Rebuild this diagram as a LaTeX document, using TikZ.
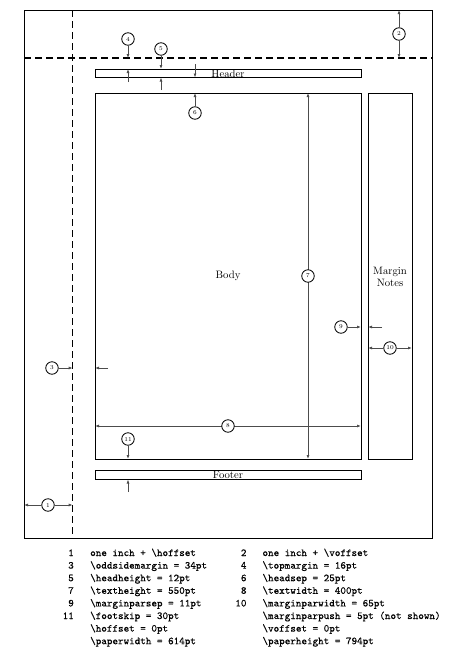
\documentclass[tikz,border=0pt]{standalone}
\usepackage{fontspec}
\newfontfamily\legendtt[FakeBold=0.35]{lmmono10-regular.otf}
\usetikzlibrary{arrows.meta}
\begin{document}
\begin{tikzpicture}[x=1pt,y=-1pt,
  box/.style={draw, line width=0.9pt, inner sep=0pt, outer sep=0pt, anchor=north west},
  dim/.style={line width=0.8pt, draw=black!70, -{Latex[length=4pt,width=3pt]}},
  num/.style={circle, draw, fill=white, line width=0.8pt, minimum size=12.5pt, inner sep=0pt, font=\fontsize{6}{6}\selectfont},
  guide/.style={dash pattern=on 7pt off 4pt, line width=1.3pt},
  lbl/.style={inner sep=0pt, font=\fontsize{10.7}{12.5}\selectfont},
  lnum/.style={inner sep=0pt, anchor=base east, font=\fontsize{10.6}{12.6}\selectfont\legendtt},
  ltxt/.style={inner sep=0pt, anchor=base west, font=\fontsize{10.6}{12.6}\selectfont\legendtt}]
\useasboundingbox (0,0) rectangle (459,653);

% boxes
\node[box, line width=1pt, minimum width=408pt, minimum height=528pt] (page) at (24,10) {};
\node[box, minimum width=266pt, minimum height=8.5pt] (head) at (95,69) {};
\node[box, minimum width=266pt, minimum height=366pt] (body) at (95,93) {};
\node[box, minimum width=44pt, minimum height=366pt] (marg) at (368,93) {};
\node[box, minimum width=266pt, minimum height=9pt] (foot) at (95,470.5) {};

% labels
\node[lbl, anchor=base] (headlbl) at (228,77.3) {Header};
\node[lbl, anchor=base] (footlbl) at (228,478.4) {Footer};
\node[lbl] (bodylbl) at (228,276) {Body};
\node[lbl, align=center] (marglbl) at (390,277) {Margin\\Notes};

% guides
\coordinate (gv) at (72.7,0);
\coordinate (gh) at (0,58);
\draw[guide] (page.north -| gv) -- (page.south -| gv);
\draw[guide] (page.west |- gh) -- (page.east |- gh);

% 1
\node[num] (n1) at (48,505) {1};
\draw[dim] (n1) -- (n1 -| page.west);
\draw[dim] (n1) -- (n1 -| gv);
% 2
\node[num] (n2) at (399,34) {2};
\draw[dim] (n2) -- (n2 |- page.north);
\draw[dim] (n2) -- (n2 |- gh);
% 3
\node[num] (n3) at (52,368) {3};
\draw[dim] (n3) -- (n3 -| gv);
\coordinate (a3) at (108,368);
\draw[dim] (a3) -- (a3 -| body.west);
% 4
\node[num] (n4) at (128,39) {4};
\draw[dim] (n4) -- (n4 |- gh);
\coordinate (a4) at (128,82);
\draw[dim] (a4) -- (a4 |- head.north);
% 5
\node[num] (n5) at (161,49) {5};
\draw[dim] (n5) -- (n5 |- head.north);
\coordinate (a5) at (161,90);
\draw[dim] (a5) -- (a5 |- head.south);
% 6
\node[num] (n6) at (195,113) {6};
\draw[dim] (n6) -- (n6 |- body.north);
\coordinate (a6) at (195,64);
\draw[dim] (a6) -- (a6 |- head.south);
% 7
\coordinate (c7) at (308,276);
\draw[dim] (c7) -- (c7 |- body.north);
\draw[dim] (c7) -- (c7 |- body.south);
\node[num] (n7) at (c7) {7};
% 8
\coordinate (c8) at (228,426);
\draw[dim] (c8) -- (c8 -| body.west);
\draw[dim] (c8) -- (c8 -| body.east);
\node[num] (n8) at (c8) {8};
% 9
\node[num] (n9) at (341,327) {9};
\draw[dim] (n9) -- (n9 -| body.east);
\coordinate (a9) at (382,327);
\draw[dim] (a9) -- (a9 -| marg.west);
% 10
\node[num] (n10) at (390,348) {10};
\draw[dim] (n10) -- (n10 -| marg.west);
\draw[dim] (n10) -- (n10 -| marg.east);
% 11
\node[num] (n11) at (128,439) {11};
\draw[dim] (n11) -- (n11 |- body.south);
\coordinate (a11) at (128,492);
\draw[dim] (a11) -- (a11 |- foot.south);

% legend
\node[lnum] (k1) at (74,556) {1};
\node[ltxt] (t1) at (90,556) {one inch + \textbackslash hoffset};
\node[lnum] (k2) at (246.7,556) {2};
\node[ltxt] (t2) at (262.3,556) {one inch + \textbackslash voffset};
\node[lnum] (k3) at (74,568.6) {3};
\node[ltxt] (t3) at (90,568.6) {\textbackslash oddsidemargin = 34pt};
\node[lnum] (k4) at (246.7,568.6) {4};
\node[ltxt] (t4) at (262.3,568.6) {\textbackslash topmargin = 16pt};
\node[lnum] (k5) at (74,581.2) {5};
\node[ltxt] (t5) at (90,581.2) {\textbackslash headheight = 12pt};
\node[lnum] (k6) at (246.7,581.2) {6};
\node[ltxt] (t6) at (262.3,581.2) {\textbackslash headsep = 25pt};
\node[lnum] (k7) at (74,593.8) {7};
\node[ltxt] (t7) at (90,593.8) {\textbackslash textheight = 550pt};
\node[lnum] (k8) at (246.7,593.8) {8};
\node[ltxt] (t8) at (262.3,593.8) {\textbackslash textwidth = 400pt};
\node[lnum] (k9) at (74,606.4) {9};
\node[ltxt] (t9) at (90,606.4) {\textbackslash marginparsep = 11pt};
\node[lnum] (k10) at (246.7,606.4) {10};
\node[ltxt] (t10) at (262.3,606.4) {\textbackslash marginparwidth = 65pt};
\node[lnum] (k11) at (74,619) {11};
\node[ltxt] (t11) at (90,619) {\textbackslash footskip = 30pt};
\node[ltxt] (t12) at (262.3,619) {\textbackslash marginparpush = 5pt (not shown)};
\node[ltxt] (t13) at (90,631.6) {\textbackslash hoffset = 0pt};
\node[ltxt] (t14) at (262.3,631.6) {\textbackslash voffset = 0pt};
\node[ltxt] (t15) at (90,644.2) {\textbackslash paperwidth = 614pt};
\node[ltxt] (t16) at (262.3,644.2) {\textbackslash paperheight = 794pt};
\end{tikzpicture}
\end{document}
